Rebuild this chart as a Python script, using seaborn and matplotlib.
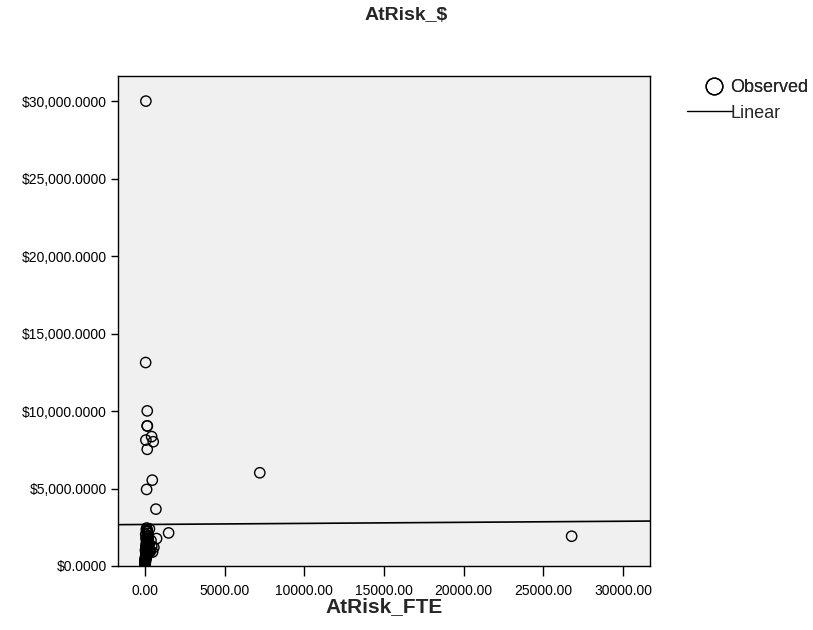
import matplotlib
matplotlib.use("Agg")
import matplotlib.pyplot as plt
from matplotlib.lines import Line2D
from matplotlib.ticker import FuncFormatter
import pandas as pd
import seaborn as sns

# outlying cases
outlier_fte = [60, 45, 145, 150, 140, 420, 60, 520, 145, 460, 105, 690, 1485, 730, 7206, 26773]
outlier_dollars = [30000, 13130, 10010, 9040, 9040, 8350, 8130, 8020, 7530, 5540, 4940, 3670, 2135, 1770, 6016, 1921]

# dense cluster near zero (estimated)
cluster_fte = [12, 25, 40, 55, 8, 90, 130, 160, 210, 35, 70, 110, 250, 300, 45, 15, 180, 95, 60, 140,
               380, 20, 75, 230, 50, 120, 10, 165, 85, 280, 30, 200, 65, 145, 5, 100, 340, 55, 190, 40,
               260, 80, 125, 18, 430, 150, 70, 220, 35, 105, 310, 28, 175, 90, 560, 480]
cluster_dollars = [150, 420, 980, 1250, 60, 1500, 2200, 800, 1750, 350, 1100, 2450, 1300, 900, 600, 250,
                   1950, 1400, 750, 2300, 1650, 100, 500, 1200, 2050, 1000, 300, 1600, 850, 2400, 450, 1150,
                   1800, 700, 200, 1350, 950, 550, 2100, 1050, 1450, 650, 1900, 380, 1250, 2250, 820, 1550,
                   280, 1700, 1000, 520, 1400, 2350, 1200, 900]

x_ticks = [0, 5000, 10000, 15000, 20000, 25000, 30000]
y_ticks = [0, 5000, 10000, 15000, 20000, 25000, 30000]

df = pd.DataFrame({'AtRisk_FTE': outlier_fte + cluster_fte,
                   'AtRisk_$': outlier_dollars + cluster_dollars})

sns.set_style('white')
plt.rcParams['font.family'] = ['Liberation Sans', 'DejaVu Sans']

fig = plt.figure(figsize=(8.13, 6.30), dpi=100)
ax = fig.add_axes([118 / 813, 1 - 566 / 630, (650 - 118) / 813, (566 - 75.7) / 630])
ax.set_facecolor('#F0F0F0')

ax.set_xlim(-1690, 31690)
ax.set_ylim(0, 31640)

# observed points
sns.scatterplot(data=df, x='AtRisk_FTE', y='AtRisk_$', ax=ax, marker='o', s=55,
                facecolor='none', edgecolor='black', linewidth=1.0, zorder=3)
# linear fit across the whole axis
sns.regplot(data=df, x='AtRisk_FTE', y='AtRisk_$', ax=ax, scatter=False, ci=None,
            truncate=False, line_kws={'color': 'black', 'linewidth': 1.2})
ax.set_xlim(-1690, 31690)
ax.set_ylim(0, 31640)

ax.set_xticks(x_ticks)
ax.set_yticks(y_ticks)
ax.xaxis.set_major_formatter(FuncFormatter(lambda v, p: f'{v:.2f}'))
ax.yaxis.set_major_formatter(FuncFormatter(lambda v, p: f'${v:,.4f}'))
ax.tick_params(axis='x', direction='out', length=7, width=1, labelsize=10, colors='black', pad=6)
ax.tick_params(axis='y', direction='out', length=5, width=1, labelsize=10, colors='black', pad=3)
ax.tick_params(bottom=True, left=True)
for sp in ax.spines.values():
    sp.set_color('black')
    sp.set_linewidth(1.0)

ax.set_xlabel('')
ax.set_ylabel('')
fig.text(384 / 813, 1 - 607 / 630, 'AtRisk_FTE', ha='center', va='center', fontsize=15, fontweight='bold')
fig.text(406 / 813, 1 - 16 / 630, 'AtRisk_$', ha='center', va='center', fontsize=14, fontweight='bold')

obs = Line2D([], [], marker='o', linestyle='none', markersize=12, markerfacecolor='none',
             markeredgecolor='black', markeredgewidth=1.0)
lin = Line2D([], [], color='black', linewidth=1.0)
leg1 = fig.legend([obs], ['Observed'], loc='center left', bbox_to_anchor=(705 / 813, 1 - 88 / 630),
                  frameon=False, fontsize=13, handlelength=1.0, handletextpad=0.4,
                  borderpad=0, borderaxespad=0)
leg2 = fig.legend([lin], ['Linear'], loc='center left', bbox_to_anchor=(687 / 813, 1 - 113 / 630),
                  frameon=False, fontsize=13, handlelength=2.5, handletextpad=-0.1,
                  borderpad=0, borderaxespad=0)
fig.add_artist(leg1)

fig.savefig('out.png', dpi=100, facecolor='white')
